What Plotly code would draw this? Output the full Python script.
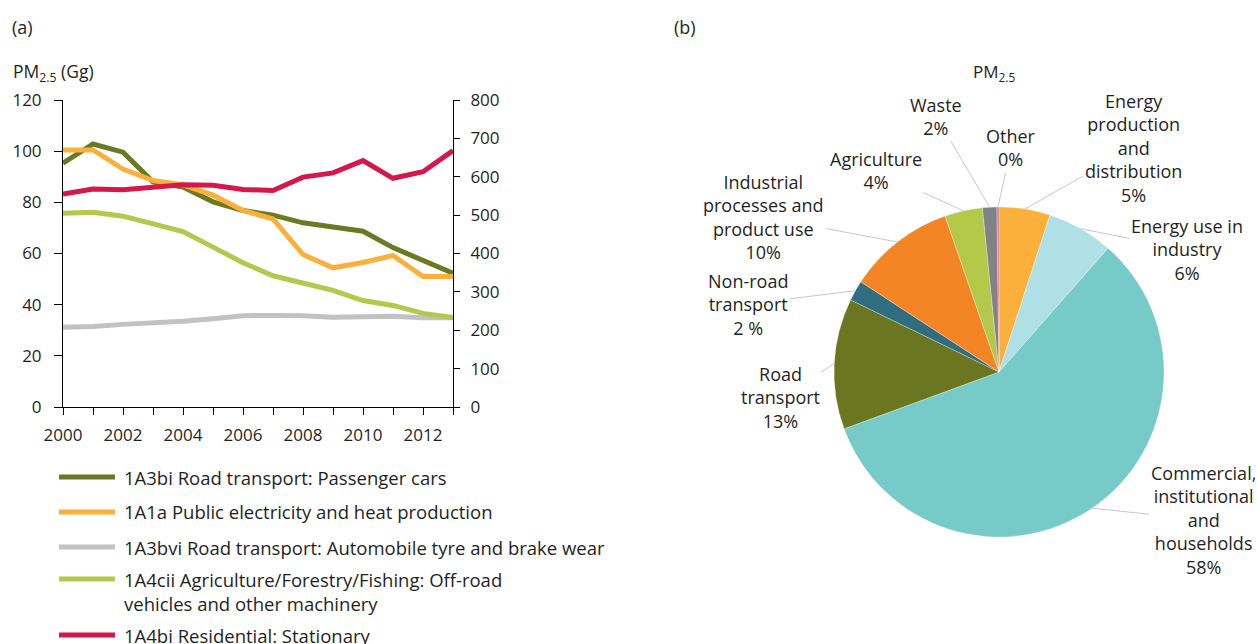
import math
import plotly.graph_objects as go

W, H = 1257, 644

# ---------------- data: panel (a) ----------------
years = list(range(2000, 2014))
passenger_cars = [95.3, 102.8, 99.6, 88.0, 86.0, 80.2, 76.8, 75.0, 72.0, 70.2, 68.7, 62.3, 57.3, 52.3]
public_electricity = [100.5, 100.5, 93.0, 88.5, 86.8, 82.8, 76.8, 73.5, 59.6, 54.4, 56.5, 59.2, 51.0, 51.0]
tyre_brake = [31.2, 31.5, 32.3, 32.8, 33.5, 34.5, 35.7, 35.8, 35.7, 35.1, 35.5, 35.5, 34.9, 34.9]
offroad_machinery = [75.7, 76.1, 74.6, 71.8, 68.6, 62.5, 56.4, 51.3, 48.4, 45.6, 41.6, 39.7, 36.6, 35.0]
residential = [555, 568, 566, 573, 579, 578, 567, 564, 599, 610, 642, 596, 613, 668]

series_names = [
    "1A3bi Road transport: Passenger cars",
    "1A1a Public electricity and heat production",
    "1A3bvi Road transport: Automobile tyre and brake wear",
    "1A4cii Agriculture/Forestry/Fishing: Off-road<br>vehicles and other machinery",
    "1A4bi Residential: Stationary",
]

# ---------------- data: panel (b) ----------------
sector_labels = [
    "Energy<br>production<br>and<br>distribution",
    "Energy use in<br>industry",
    "Commercial,<br>institutional<br>and<br>households",
    "Road<br>transport",
    "Non-road<br>transport",
    "Industrial<br>processes and<br>product use",
    "Agriculture",
    "Waste",
    "Other",
]
sector_shares = [5.0, 6.5, 57.9, 12.8, 2.0, 10.5, 3.7, 1.4, 0.2]
sector_pct_text = ["5%", "6%", "58%", "13%", "2 %", "10%", "4%", "2%", "0%"]

# ---------------- styles ----------------
FONT = "Open Sans"
TXT = "#1f1f1f"
line_colors = ["#6b7a22", "#fbb03b", "#c2c2c2", "#b3c94b", "#d5174b"]
pie_colors = ["#fbb03b", "#afe0e6", "#76cbc9", "#6b7720", "#306d80",
              "#f38524", "#b4c84a", "#808285", "#f06b8b"]

fig = go.Figure()
line_series = [passenger_cars, public_electricity, tyre_brake, offroad_machinery, residential]
for i, (name, vals) in enumerate(zip(series_names, line_series)):
    fig.add_trace(go.Scatter(
        x=years, y=vals, name=name.replace("<br>", " "), mode="lines",
        line=dict(color=line_colors[i], width=5),
        yaxis="y2" if i == 4 else "y", showlegend=False,
    ))

# pie geometry (pixels)
cx, cy, r = 999, 372, 165
fig.add_trace(go.Pie(
    labels=sector_labels, values=sector_shares, sort=False,
    direction="clockwise", rotation=0, textinfo="none", showlegend=False,
    marker=dict(colors=pie_colors, line=dict(color="white", width=0.3)),
    domain=dict(x=[(cx - r) / W, (cx + r) / W], y=[1 - (cy + r) / H, 1 - (cy - r) / H]),
    hoverinfo="label+percent",
))

# label centres for the pie annotations (pixels)
label_pos = [(1133, 148), (1187, 250), (1203, 520), (780, 398), (748, 304),
             (764, 217), (876, 171), (936, 116), (1011, 148)]

annotations = []
total = sum(sector_shares)
cum = 0.0
for lab, share, pct, (lx, ly) in zip(sector_labels, sector_shares, sector_pct_text, label_pos):
    mid = (cum + share / 2) / total
    cum += share
    th = 2 * math.pi * mid
    px = cx + r * math.sin(th)
    py = cy - r * math.cos(th)
    annotations.append(dict(
        x=px / W, y=1 - py / H, xref="paper", yref="paper",
        text=lab + "<br>" + pct, showarrow=True, arrowhead=0,
        arrowwidth=1, arrowcolor="#c8c8c8", ax=lx - px, ay=ly - py,
        font=dict(family=FONT, size=18, color=TXT), align="center",
    ))

annotations += [
    dict(x=10 / W, y=1 - 27 / H, xref="paper", yref="paper", text="(a)", showarrow=False,
         xanchor="left", yanchor="middle", font=dict(family=FONT, size=18, color=TXT)),
    dict(x=672 / W, y=1 - 27 / H, xref="paper", yref="paper", text="(b)", showarrow=False,
         xanchor="left", yanchor="middle", font=dict(family=FONT, size=18, color=TXT)),
    dict(x=11 / W, y=1 - 72 / H, xref="paper", yref="paper", text="PM<sub>2.5</sub> (Gg)",
         showarrow=False, xanchor="left", yanchor="middle",
         font=dict(family=FONT, size=17.5, color=TXT)),
    dict(x=994 / W, y=1 - 72 / H, xref="paper", yref="paper", text="PM<sub>2.5</sub>",
         showarrow=False, xanchor="center", yanchor="middle",
         font=dict(family=FONT, size=17, color=TXT)),
]

# manual legend for panel (a): swatch line + text
legend_rows_y = [477, 512, 547, 591, 635]
shapes = []
for name, col, ly in zip(series_names, line_colors, legend_rows_y):
    sy = ly - 12 if "<br>" in name else ly
    shapes.append(dict(type="line", xref="paper", yref="paper",
                       x0=59 / W, x1=115 / W, y0=1 - sy / H, y1=1 - sy / H,
                       line=dict(color=col, width=5)))
    annotations.append(dict(x=122 / W, y=1 - ly / H, xref="paper", yref="paper",
                            text=name, showarrow=False, xanchor="left", yanchor="middle",
                            align="left", font=dict(family=FONT, size=18.5, color=TXT)))

x0, x1, y0, y1 = 63, 453, 100, 407
axis_common = dict(showgrid=False, zeroline=False, showline=True, linecolor="black",
                   linewidth=1, ticks="outside", tickcolor="black", automargin=False,
                   tickfont=dict(family=FONT, size=17, color=TXT))

fig.update_layout(
    width=W, height=H, margin=dict(l=0, r=0, t=0, b=0, pad=0),
    paper_bgcolor="white", plot_bgcolor="white",
    font=dict(family=FONT, size=17, color=TXT),
    xaxis=dict(domain=[x0 / W, x1 / W], range=[2000, 2013], tick0=2000, dtick=2,
               ticklen=7, ticklabelstandoff=6,
               minor=dict(dtick=1, ticks="outside", ticklen=7, tickcolor="black", showgrid=False),
               **axis_common),
    yaxis=dict(domain=[1 - y1 / H, 1 - y0 / H], range=[0, 120], dtick=20,
               ticklen=8, ticklabelstandoff=9, **axis_common),
    yaxis2=dict(overlaying="y", side="right", anchor="x", range=[0, 800], dtick=100,
                ticklen=6, ticklabelstandoff=7, **axis_common),
    annotations=annotations,
    shapes=shapes,
    showlegend=False,
)

fig.write_html("out.html", config={"displayModeBar": False},
               post_script="document.body.style.margin='0';")
